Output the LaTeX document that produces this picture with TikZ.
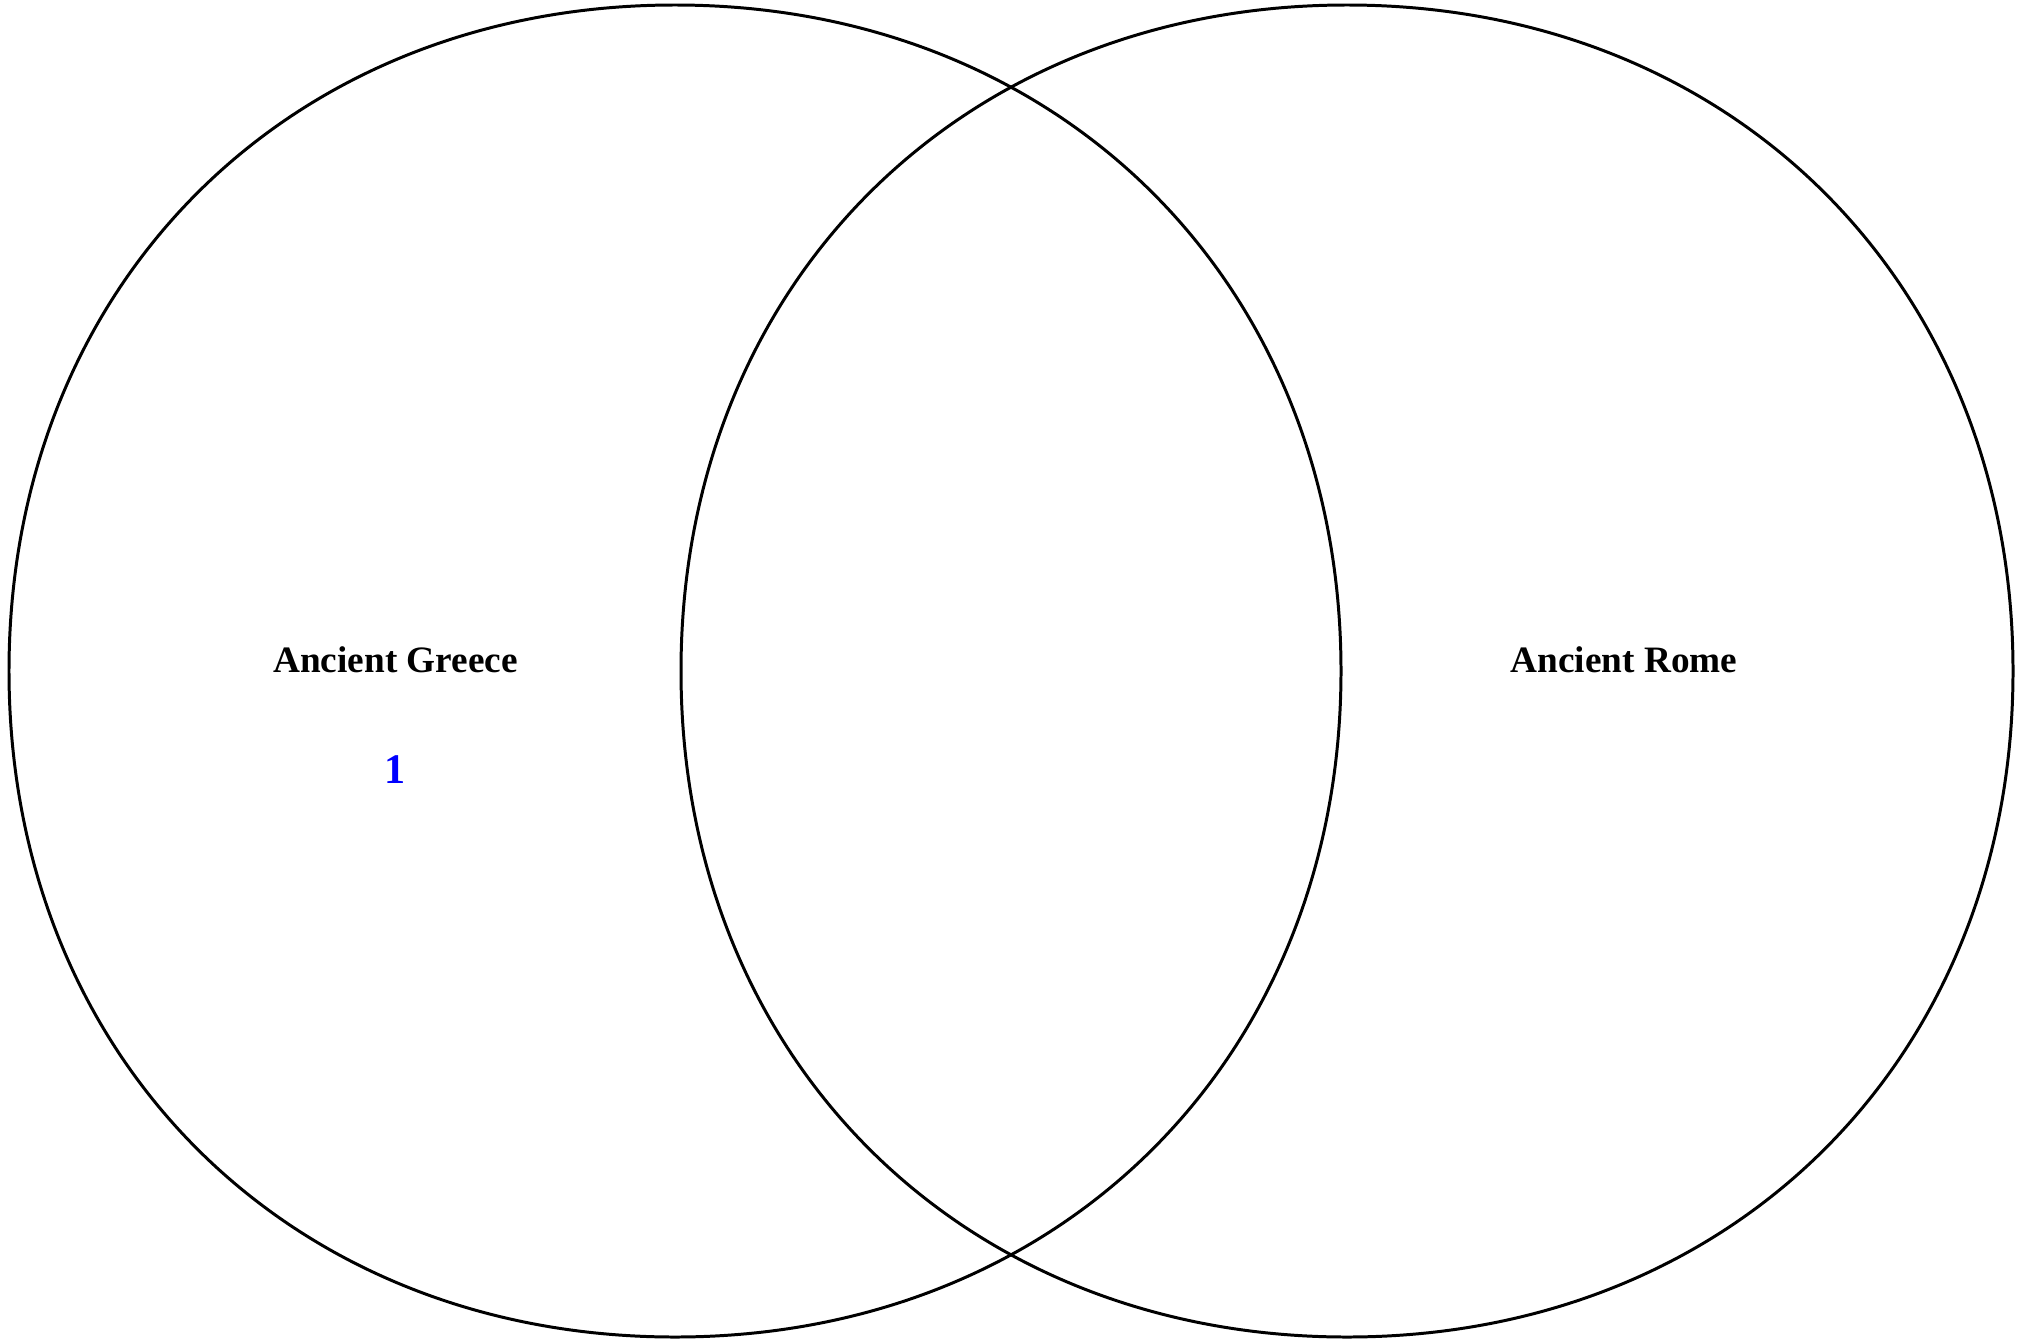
\documentclass[tikz,border=0pt]{standalone}
\usepackage{fontspec}
\setmainfont{Liberation Serif}
\begin{document}
\begin{tikzpicture}[
  vennline/.style={draw=black, line width=0.85pt},
  setlabel/.style={font=\bfseries\fontsize{10.6}{12}\selectfont, anchor=base, inner sep=0pt},
  countlabel/.style={font=\bfseries\fontsize{12}{14}\selectfont, text={rgb,255:red,0;green,0;blue,255}, anchor=base, inner sep=0pt}
]
\useasboundingbox (0,0) rectangle (20.21,13.38);
\begin{scope}[shift={(6.75,6.67)}]
\draw[vennline] (-6.66,0) .. controls (-6.66,3.863) and (-3.863,6.66) .. (0,6.66)
  .. controls (3.863,6.66) and (6.66,3.863) .. (6.66,0)
  .. controls (6.66,-3.863) and (3.863,-6.66) .. (0,-6.66)
  .. controls (-3.863,-6.66) and (-6.66,-3.863) .. (-6.66,0) -- cycle;
\end{scope}
\begin{scope}[shift={(13.47,6.67)}]
\draw[vennline] (-6.66,0) .. controls (-6.66,3.863) and (-3.863,6.66) .. (0,6.66)
  .. controls (3.863,6.66) and (6.66,3.863) .. (6.66,0)
  .. controls (6.66,-3.863) and (3.863,-6.66) .. (0,-6.66)
  .. controls (-3.863,-6.66) and (-6.66,-3.863) .. (-6.66,0) -- cycle;
\end{scope}
\node[setlabel] (greece) at (3.955,6.66) {Ancient Greece};
\node[setlabel] (rome) at (16.24,6.66) {Ancient Rome};
\node[countlabel] (count) at (3.955,5.55) {1};
\end{tikzpicture}
\end{document}
